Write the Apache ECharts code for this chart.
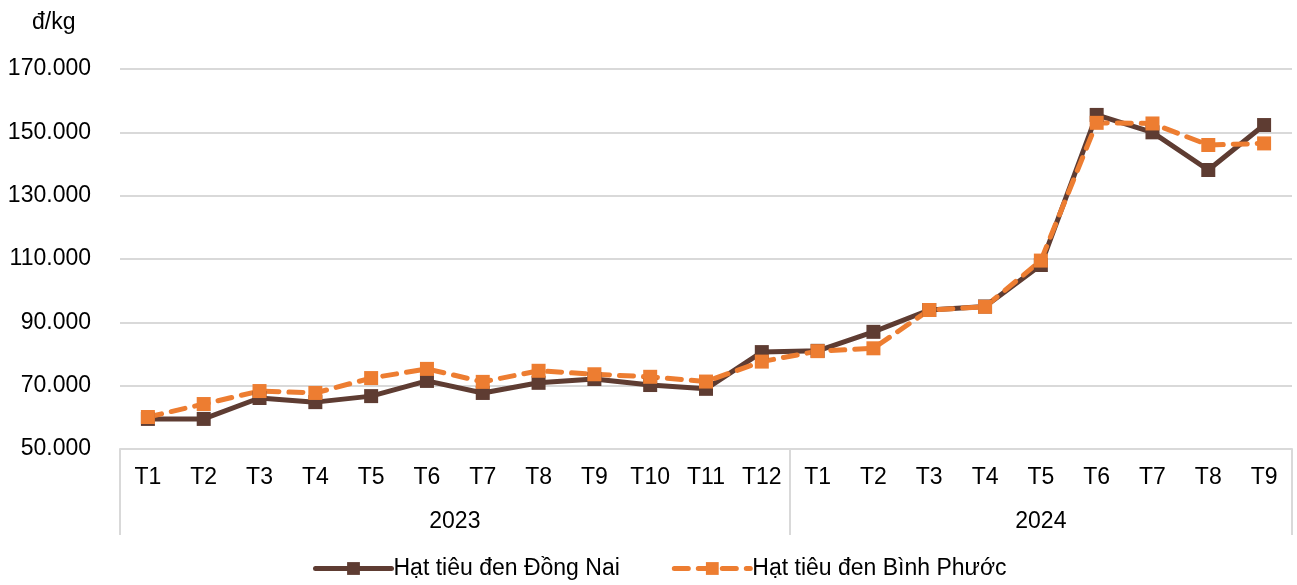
<!DOCTYPE html>
<html>
<head>
<meta charset="utf-8">
<script src="https://cdn.jsdelivr.net/npm/echarts@6/dist/echarts.min.js"></script>
<style>
html,body{margin:0;padding:0;background:#fff;}
#chart{width:1297px;height:585px;}
</style>
</head>
<body>
<div id="chart"></div>
<script>
var months2023 = ['T1','T2','T3','T4','T5','T6','T7','T8','T9','T10','T11','T12'];
var months2024 = ['T1','T2','T3','T4','T5','T6','T7','T8','T9'];
var years = ['2023','2024'];
var yTicks = [50000, 70000, 90000, 110000, 130000, 150000, 170000];
var unitLabel = 'đ/kg';
var seriesNames = ['Hạt tiêu đen Đồng Nai', 'Hạt tiêu đen Bình Phước'];
var dongNai = [59500, 59500, 66100, 64800, 66700, 71500, 67700, 70900, 72100, 70200, 69000, 80600,
               81000, 87000, 93900, 95000, 108100, 155500, 150000, 138100, 152300];
var binhPhuoc = [60100, 64200, 68300, 67700, 72400, 75300, 71200, 74700, 73600, 72800, 71300, 77600,
                 80900, 81800, 93900, 94900, 109500, 153000, 152800, 146000, 146500];

var categories = months2023.concat(months2024);
var groupSizes = [months2023.length, months2024.length];
var groupStarts = [0, months2023.length];
var yearCenters = {};
groupSizes.forEach(function (n, i) { yearCenters[groupStarts[i] + n / 2] = years[i]; });

var FONT = '"Liberation Sans", Arial, sans-serif';
var FS = 23;
var GRAY = '#d9d9d9';
var BROWN = '#5e3c32';
var ORANGE = '#ed7d31';

function fmt(v) {
  return String(v).replace(/\B(?=(\d{3})+(?!\d))/g, '.');
}

var chart = echarts.init(document.getElementById('chart'), null, {renderer: 'canvas'});
chart.setOption({
  animation: false,
  backgroundColor: '#fff',
  textStyle: {fontFamily: FONT},
  title: {
    text: unitLabel, left: 27, top: 6,
    textStyle: {fontFamily: FONT, fontSize: FS, fontWeight: 'normal', color: '#000'}
  },
  grid: {left: 120, right: 5, top: 69, bottom: 136, containLabel: false},
  legend: {
    data: seriesNames,
    left: 308, top: 552,
    itemWidth: 76, itemHeight: 16, itemGap: 52,
    lineStyle: {width: 5},
    textStyle: {fontFamily: FONT, fontSize: FS, color: '#000', padding: [0, 0, 0, -3]}
  },
  xAxis: [{
    type: 'category',
    data: categories,
    boundaryGap: true,
    axisLine: {show: true, lineStyle: {color: GRAY, width: 2}},
    axisTick: {
      show: true, length: 86, inside: false,
      interval: function (i) { return groupStarts.indexOf(i) >= 0; },
      lineStyle: {color: GRAY, width: 2}
    },
    axisLabel: {interval: 0, margin: 17, fontFamily: FONT, fontSize: FS, color: '#000'},
    splitLine: {show: false}
  }, {
    type: 'value',
    position: 'bottom',
    min: 0, max: categories.length, interval: 0.5,
    axisLine: {show: false}, axisTick: {show: false}, splitLine: {show: false},
    axisLabel: {
      margin: 61, fontFamily: FONT, fontSize: FS, color: '#000',
      showMinLabel: true, showMaxLabel: true,
      formatter: function (v) { return yearCenters[v] || ''; }
    }
  }],
  yAxis: {
    type: 'value',
    min: yTicks[0], max: yTicks[yTicks.length - 1], interval: yTicks[1] - yTicks[0],
    axisLine: {show: false}, axisTick: {show: false},
    axisLabel: {margin: 29, fontFamily: FONT, fontSize: FS, color: '#000', formatter: fmt},
    splitLine: {show: true, lineStyle: {color: GRAY, width: 2}}
  },
  series: [{
    name: seriesNames[0],
    type: 'line',
    xAxisIndex: 0,
    data: dongNai,
    symbol: 'rect', symbolSize: 14,
    itemStyle: {color: BROWN},
    lineStyle: {color: BROWN, width: 5, cap: 'round', join: 'round'}
  }, {
    name: seriesNames[1],
    type: 'line',
    xAxisIndex: 0,
    data: binhPhuoc,
    symbol: 'rect', symbolSize: 14,
    itemStyle: {color: ORANGE},
    lineStyle: {color: ORANGE, width: 5, type: [14, 10], cap: 'round', join: 'round'}
  }]
});
</script>
</body>
</html>
